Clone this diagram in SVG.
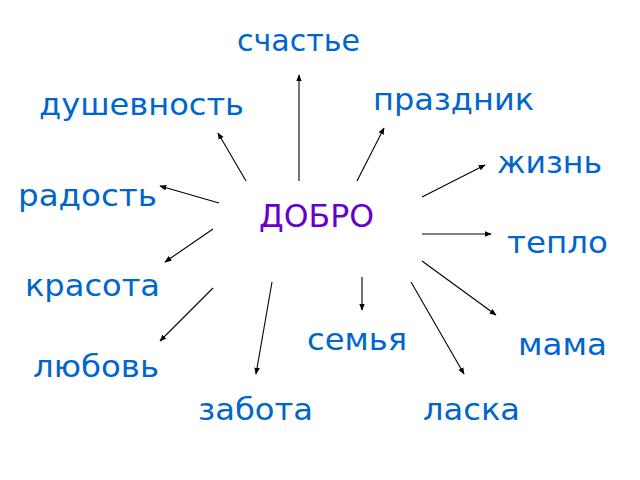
<svg xmlns="http://www.w3.org/2000/svg" width="640" height="480" viewBox="0 0 640 480">
<style>
.lbl{font-family:"DejaVu Sans","Noto Sans",sans-serif;font-size:31px;fill:#0066cc}
.main{font-family:"DejaVu Sans","Noto Sans",sans-serif;font-size:32px;fill:#6600cc}
.arr{stroke:#000;stroke-width:1.1;fill:none;marker-end:url(#ah)}
</style>
<defs>
<marker id="ah" viewBox="0 0 10 10" refX="9" refY="5" markerWidth="7" markerHeight="7" markerUnits="userSpaceOnUse" orient="auto">
<path d="M0,1 L10,5 L0,9 z" fill="#000"/>
</marker>
</defs>
<rect width="640" height="480" fill="#fff"/>
<g id="connectors">
<line class="arr" x1="299" y1="181" x2="299" y2="75"/>
<line class="arr" x1="246" y1="181" x2="218" y2="133"/>
<line class="arr" x1="357" y1="181" x2="384" y2="128"/>
<line class="arr" x1="422" y1="197" x2="485" y2="165"/>
<line class="arr" x1="219" y1="203" x2="160" y2="186"/>
<line class="arr" x1="213" y1="229" x2="165" y2="262"/>
<line class="arr" x1="422" y1="234" x2="491" y2="234"/>
<line class="arr" x1="422" y1="261" x2="496" y2="315"/>
<line class="arr" x1="213" y1="288" x2="160" y2="341"/>
<line class="arr" x1="272" y1="282" x2="256" y2="374"/>
<line class="arr" x1="362" y1="277" x2="362" y2="310"/>
<line class="arr" x1="411" y1="282" x2="464" y2="374"/>
</g>
<g id="node-dobro"><text class="main" x="259" y="227" textLength="115" lengthAdjust="spacingAndGlyphs">ДОБРО</text></g>
<g id="node-schastie"><text class="lbl" x="237" y="51" textLength="123" lengthAdjust="spacingAndGlyphs">счастье</text></g>
<g id="node-dushevnost"><text class="lbl" x="39" y="115" textLength="205" lengthAdjust="spacingAndGlyphs">душевность</text></g>
<g id="node-prazdnik"><text class="lbl" x="373" y="110" textLength="161" lengthAdjust="spacingAndGlyphs">праздник</text></g>
<g id="node-zhizn"><text class="lbl" x="497" y="173" textLength="105" lengthAdjust="spacingAndGlyphs">жизнь</text></g>
<g id="node-radost"><text class="lbl" x="18" y="206" textLength="139" lengthAdjust="spacingAndGlyphs">радость</text></g>
<g id="node-teplo"><text class="lbl" x="507" y="253" textLength="101" lengthAdjust="spacingAndGlyphs">тепло</text></g>
<g id="node-krasota"><text class="lbl" x="25" y="296" textLength="135" lengthAdjust="spacingAndGlyphs">красота</text></g>
<g id="node-semya"><text class="lbl" x="307" y="350" textLength="100" lengthAdjust="spacingAndGlyphs">семья</text></g>
<g id="node-mama"><text class="lbl" x="518" y="355" textLength="89" lengthAdjust="spacingAndGlyphs">мама</text></g>
<g id="node-lyubov"><text class="lbl" x="33" y="377" textLength="126" lengthAdjust="spacingAndGlyphs">любовь</text></g>
<g id="node-zabota"><text class="lbl" x="198" y="420" textLength="115" lengthAdjust="spacingAndGlyphs">забота</text></g>
<g id="node-laska"><text class="lbl" x="423" y="420" textLength="97" lengthAdjust="spacingAndGlyphs">ласка</text></g>
</svg>
